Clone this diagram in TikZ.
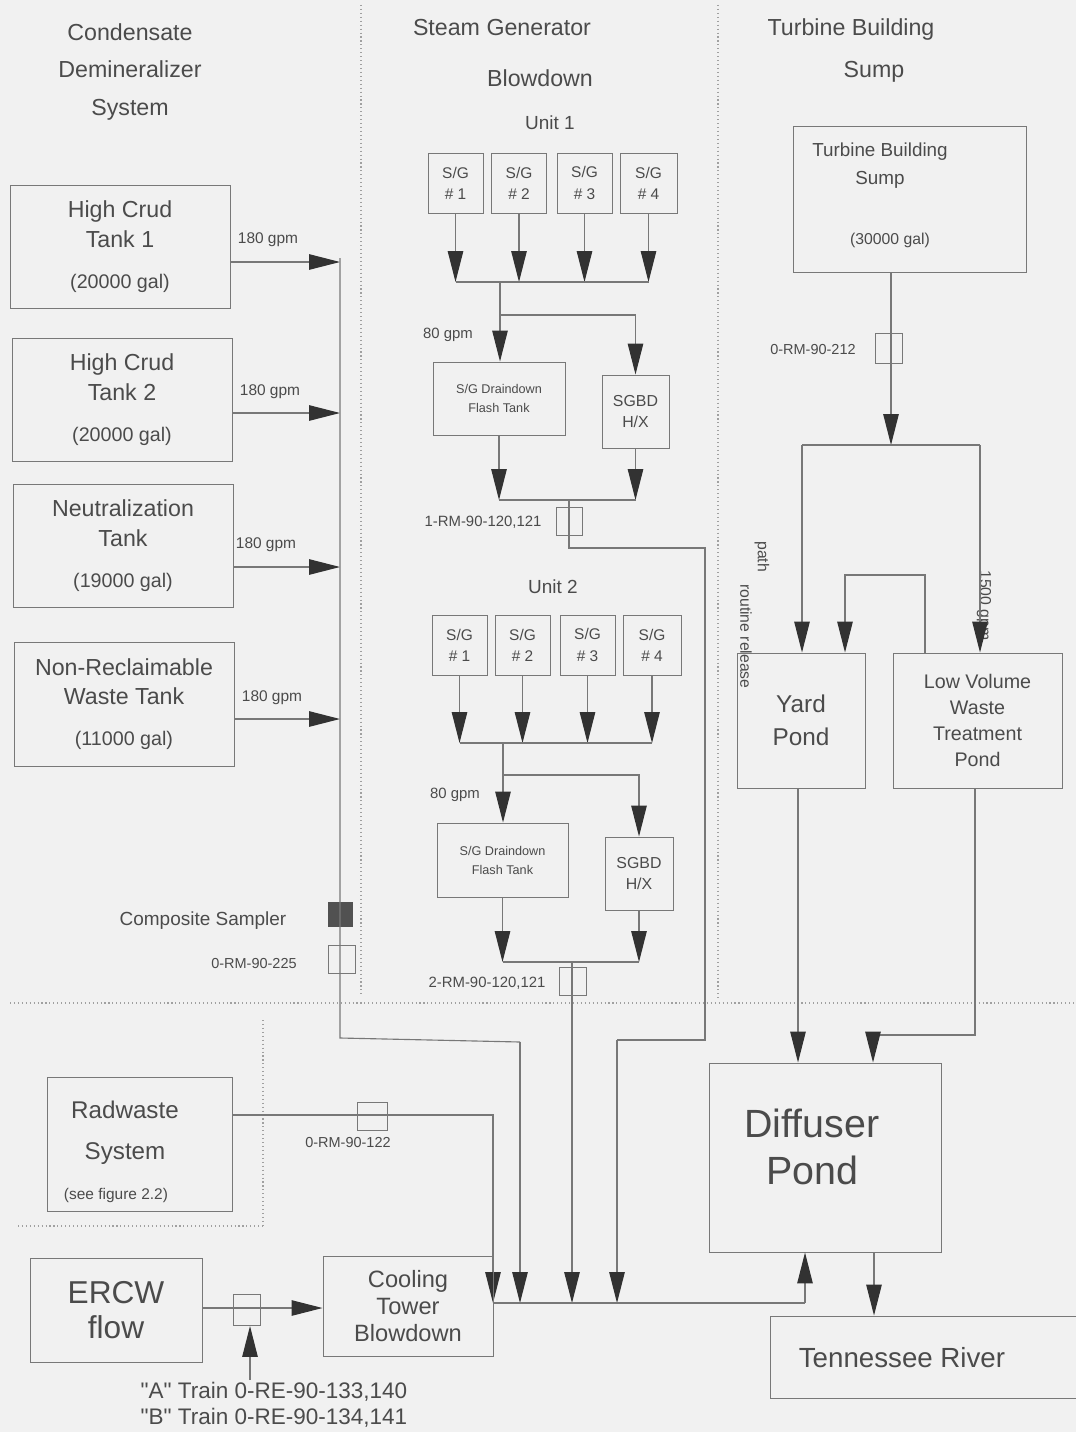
\documentclass[tikz,border=0pt]{standalone}
\usepackage{fontspec}
\setmainfont{Liberation Sans}
\usetikzlibrary{arrows.meta,positioning}
\definecolor{linegray}{RGB}{120,120,120}
\definecolor{txtgray}{RGB}{75,75,75}
\definecolor{tipgray}{RGB}{50,50,50}
\definecolor{paper}{RGB}{241,241,241}

\begin{document}
\begin{tikzpicture}[x=0.025cm,y=-0.025cm,
    box/.style 2 args={draw=linegray,line width=0.7pt,minimum width=#1*0.025cm,minimum height=#2*0.025cm,inner sep=0pt,align=center,text=txtgray},
    mon/.style={draw=linegray,line width=0.7pt,minimum width=27*0.025cm,minimum height=28*0.025cm,inner sep=0pt},
    lbl/.style={text=txtgray,inner sep=0pt,align=center},
    pipe/.style={draw=linegray,line width=0.8pt},
    flow/.style={pipe,-{Triangle[length=22pt,width=11pt,color=tipgray]}},
    divide/.style={draw=linegray!70,dotted,line width=0.8pt}]

    \fill[paper] (0,0) rectangle (1076,1432);
    \useasboundingbox (0,0) rectangle (1076,1432);

    % section dividers
    \draw[divide] (361,5) -- (361,995);
    \draw[divide] (718,5) -- (718,1000);
    \draw[divide] (10,1003) -- (1076,1003);
    \draw[divide] (263,1020) -- (263,1225);
    \draw[divide] (18,1226) -- (263,1226);

    % headings
    \node[lbl,font=\fontsize{16.5}{26.6}\selectfont] (hcds) at (130,72) {Condensate\\Demineralizer\\System};
    \node[lbl,font=\fontsize{16.5}{20}\selectfont] (hsg) at (502,28) {Steam Generator};
    \node[lbl,font=\fontsize{16.5}{20}\selectfont] (hbd) at (540,78) {Blowdown};
    \node[lbl,font=\fontsize{16.5}{20}\selectfont] (htb) at (851,30) {Turbine Building};
    \node[lbl,font=\fontsize{16.5}{20}\selectfont] (hsp) at (874,72) {Sump};

    % condensate demineralizer tanks
    \node[box={220}{123},font=\fontsize{16.5}{21}\selectfont] (tank1) at (120,246.5)
        {High Crud\\Tank 1\\[8pt]{\fontsize{14}{21}\selectfont (20000 gal)}};
    \node[box={220}{123},font=\fontsize{16.5}{21}\selectfont] (tank2) at (122,399.5)
        {High Crud\\Tank 2\\[8pt]{\fontsize{14}{21}\selectfont (20000 gal)}};
    \node[box={220}{123},font=\fontsize{16.5}{21}\selectfont] (ntank) at (123,545.5)
        {Neutralization\\Tank\\[8pt]{\fontsize{14}{21}\selectfont (19000 gal)}};
    \node[box={220}{124},font=\fontsize{16.5}{21}\selectfont] (nrtank) at (124,704)
        {Non-Reclaimable\\Waste Tank\\[8pt]{\fontsize{14}{21}\selectfont (11000 gal)}};

    \coordinate (c1) at (340,262);
    \coordinate (c2) at (340,413);
    \coordinate (c3) at (340,567);
    \coordinate (c4) at (340,719);
    \draw[flow] (tank1.east |- c1) -- (c1);
    \draw[flow] (tank2.east |- c2) -- (c2);
    \draw[flow] (ntank.east |- c3) -- (c3);
    \draw[flow] (nrtank.east |- c4) -- (c4);
    \node[lbl,font=\fontsize{11}{13}\selectfont] (g1) at (268,240) {180 gpm};
    \node[lbl,font=\fontsize{11}{13}\selectfont] (g2) at (270,392) {180 gpm};
    \node[lbl,font=\fontsize{11}{13}\selectfont] (g3) at (266,545) {180 gpm};
    \node[lbl,font=\fontsize{11}{13}\selectfont] (g4) at (272,698) {180 gpm};

    \node[fill=tipgray!85,minimum size=25*0.025cm,inner sep=0pt] (sampler) at (340,914) {};
    \node[lbl,font=\fontsize{13.5}{16}\selectfont] (samplbl) at (203,921) {Composite Sampler};
    \node[mon] (rm225) at (342,959) {};
    \node[lbl,font=\fontsize{10.3}{12}\selectfont] (rm225lbl) at (254,964) {0-RM-90-225};

    \coordinate (ctop) at (340,258);
    \coordinate (cbend) at (340,1038);
    \coordinate (cdrop) at (520,1042);
    \coordinate (mrg) at (805,1303);
    \draw[pipe] (ctop) -- (cbend) -- (cdrop);
    \draw[flow] (cdrop) -- (cdrop |- mrg);

    % unit 1
    \node[lbl,font=\fontsize{13.5}{16}\selectfont] (u1) at (550,123) {Unit 1};
    \node[box={55}{60},font=\fontsize{11}{15}\selectfont] (sg11) at (455.5,183) {S/G\\\# 1};
    \node[box={55}{60},font=\fontsize{11}{15}\selectfont] (sg12) at (519,183) {S/G\\\# 2};
    \node[box={55}{60},font=\fontsize{11}{15}\selectfont] (sg13) at (584.5,183) {S/G\\\# 3};
    \node[box={57}{60},font=\fontsize{11}{15}\selectfont] (sg14) at (648.5,183) {S/G\\\# 4};
    \coordinate (bus1) at (500,282);
    \foreach \n in {1,...,4}
        \draw[flow] (sg1\n.south) -- (sg1\n.south |- bus1);
    \draw[pipe] (sg11.south |- bus1) -- (sg14.south |- bus1);

    \node[box={132}{73},font=\fontsize{9}{13.5}\selectfont] (ft1) at (499,398.5) {S/G Draindown\\Flash Tank};
    \node[box={67}{73},font=\fontsize{11.3}{15}\selectfont] (hx1) at (635.5,411.5) {SGBD\\H/X};
    \node[lbl,font=\fontsize{10.6}{12}\selectfont] (gpm1) at (448,335) {80 gpm};
    \coordinate (br1) at (500,315);
    \draw[flow] (bus1) -- (bus1 |- ft1.north);
    \draw[flow] (br1) -| (hx1.north);

    \coordinate (out1) at (569,500);
    \draw[flow] (ft1.south) -- (ft1.south |- out1);
    \draw[flow] (hx1.south) -- (hx1.south |- out1);
    \draw[pipe] (ft1.south |- out1) -- (hx1.south |- out1);
    \node[mon,minimum width=26*0.025cm] (rm1) at (569,521) {};
    \node[lbl,font=\fontsize{10.6}{12}\selectfont] (rm1lbl) at (483,522) {1-RM-90-120,121};
    \coordinate (r1a) at (705,548);
    \coordinate (r1b) at (705,1040);
    \coordinate (r1c) at (617,1040);
    \draw[pipe] (out1) -- (out1 |- r1a) -- (r1a) -- (r1b) -- (r1c);
    \draw[flow] (r1c) -- (r1c |- mrg);

    % unit 2
    \node[lbl,font=\fontsize{13.5}{16}\selectfont] (u2) at (553,587) {Unit 2};
    \node[box={55}{60},font=\fontsize{11}{15}\selectfont] (sg21) at (459.5,645) {S/G\\\# 1};
    \node[box={55}{60},font=\fontsize{11}{15}\selectfont] (sg22) at (522.5,645) {S/G\\\# 2};
    \node[box={55}{60},font=\fontsize{11}{15}\selectfont] (sg23) at (587.5,645) {S/G\\\# 3};
    \node[box={58}{60},font=\fontsize{11}{15}\selectfont] (sg24) at (652,645) {S/G\\\# 4};
    \coordinate (bus2) at (503,743);
    \foreach \n in {1,...,4}
        \draw[flow] (sg2\n.south) -- (sg2\n.south |- bus2);
    \draw[pipe] (sg21.south |- bus2) -- (sg24.south |- bus2);

    \node[box={131}{74},font=\fontsize{9}{13.5}\selectfont] (ft2) at (502.5,860) {S/G Draindown\\Flash Tank};
    \node[box={68}{73},font=\fontsize{11.3}{15}\selectfont] (hx2) at (639,873.5) {SGBD\\H/X};
    \node[lbl,font=\fontsize{10.6}{12}\selectfont] (gpm2) at (455,795) {80 gpm};
    \coordinate (br2) at (503,775);
    \draw[flow] (bus2) -- (bus2 |- ft2.north);
    \draw[flow] (br2) -| (hx2.north);

    \coordinate (out2) at (572,962);
    \draw[flow] (ft2.south) -- (ft2.south |- out2);
    \draw[flow] (hx2.south) -- (hx2.south |- out2);
    \draw[pipe] (ft2.south |- out2) -- (hx2.south |- out2);
    \node[mon] (rm2) at (573,981) {};
    \node[lbl,font=\fontsize{10.6}{12}\selectfont] (rm2lbl) at (487,983) {2-RM-90-120,121};
    \draw[flow] (out2) -- (out2 |- mrg);

    % turbine building sump
    \node[box={233}{146}] (tbs) at (909.5,199) {};
    \node[lbl,font=\fontsize{13.4}{20}\selectfont] (tbslbl) at (880,166) {Turbine Building\\Sump};
    \node[lbl,font=\fontsize{11.2}{13}\selectfont] (tbsgal) at (890,240) {(30000 gal)};
    \node[mon,minimum height=30*0.025cm] (rm212) at (889,348) {};
    \node[lbl,font=\fontsize{10.3}{12}\selectfont] (rm212lbl) at (813,350) {0-RM-90-212};
    \coordinate (tbus) at (891,445);
    \coordinate (tbl) at (802,445);
    \coordinate (tbr) at (980,445);
    \draw[flow] (tbs.south -| tbus) -- (tbus);
    \draw[pipe] (tbl) -- (tbr);

    \node[box={128}{135},font=\fontsize{17.3}{23.4}\selectfont] (yard) at (801,720.5) {Yard\\Pond};
    \node[box={169}{135},font=\fontsize{14}{18.5}\selectfont] (lvw) at (977.5,720.5)
        {Low Volume\\Waste\\Treatment\\Pond};
    \node[lbl,rotate=-90,anchor=west,font=\fontsize{11.2}{13}\selectfont] (pathlbl) at (762,541) {path};
    \node[lbl,rotate=-90,anchor=west,font=\fontsize{11.2}{13}\selectfont] (rellbl) at (746,584) {routine release};
    \node[lbl,rotate=-90,anchor=west,font=\fontsize{11.2}{13}\selectfont] (g1500) at (984,570) {1500 gpm};

    \draw[flow] (tbl) -- (tbl |- yard.north);
    \draw[flow] (tbr) -- (tbr |- lvw.north);
    \coordinate (lpa) at (925,575);
    \coordinate (lpb) at (845,575);
    \draw[flow] (lvw.north -| lpa) -- (lpa) -- (lpb) -- (lpb |- yard.north);

    % diffuser pond and river
    \node[box={232}{189}] (diff) at (825,1157.5) {};
    \node[lbl,font=\fontsize{28}{33}\selectfont] (difflbl) at (812,1147) {Diffuser\\Pond};
    \node[box={315}{82}] (river) at (927.5,1357) {};
    \node[lbl,font=\fontsize{19.7}{22}\selectfont] (riverlbl) at (902,1358) {Tennessee River};

    \coordinate (yo) at (798,788);
    \draw[flow] (yo) -- (yo |- diff.north);
    \coordinate (lo) at (975,1035);
    \coordinate (lo2) at (873,1035);
    \draw[flow] (lvw.south -| lo) -- (lo) -- (lo2) -- (lo2 |- diff.north);
    \coordinate (dout) at (874,1252);
    \draw[flow] (dout) -- (dout |- river.north);

    % radwaste, ERCW, cooling tower
    \node[box={185}{134}] (rad) at (139.5,1144) {};
    \node[lbl,font=\fontsize{17.2}{29}\selectfont] (radlbl) at (125,1133) {Radwaste\\System};
    \node[lbl,font=\fontsize{11}{13}\selectfont] (radfig) at (116,1195) {(see figure 2.2)};
    \node[mon,minimum width=30*0.025cm] (rm122) at (372,1116) {};
    \node[lbl,font=\fontsize{10.3}{12}\selectfont] (rm122lbl) at (348,1143) {0-RM-90-122};
    \coordinate (radc) at (493,1115);
    \draw[flow] (rad.east |- radc) -- (radc) -- (radc |- mrg);

    \node[box={172}{104},font=\fontsize{22.5}{25}\selectfont] (ercw) at (116,1310) {ERCW\\flow};
    \node[box={170}{100},font=\fontsize{16.8}{19}\selectfont] (ctb) at (408,1306) {Cooling\\Tower\\Blowdown};
    \node[mon,minimum height=31*0.025cm] (rm133) at (247,1310) {};
    \coordinate (ew) at (247,1308);
    \draw[flow] (ercw.east |- ew) -- (ew) -- (ctb.west |- ew);
    \coordinate (trn) at (250,1380);
    \draw[flow] (trn) -- (trn |- rm133.south);
    \node[lbl,font=\fontsize{16}{18.5}\selectfont,align=left] (trains) at (274,1405)
        {\textquotedbl A\textquotedbl\ Train 0-RE-90-133,140\\\textquotedbl B\textquotedbl\ Train 0-RE-90-134,141};

    \draw[pipe] (ctb.east |- mrg) -- (mrg);
    \draw[flow] (mrg) -- (mrg |- diff.south);
\end{tikzpicture}
\end{document}
